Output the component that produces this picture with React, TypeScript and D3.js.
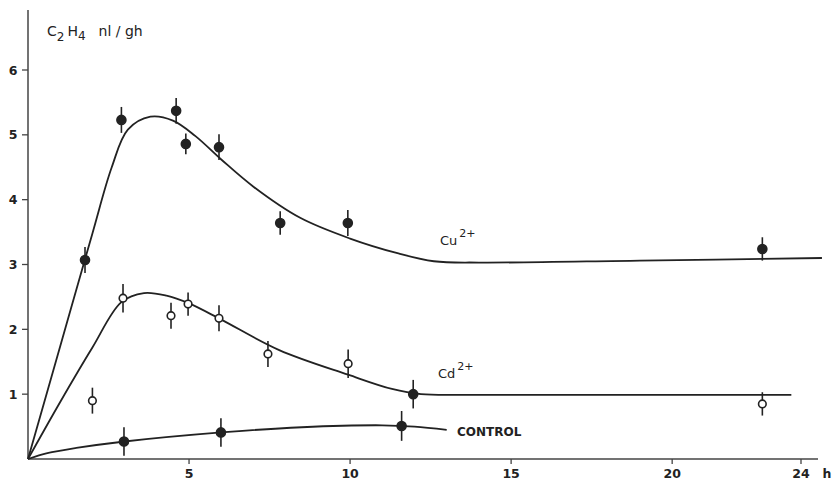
import React from "react";
import * as d3 from "d3";

// Measured points (hours, nl/gh, error)
const cuHours = [1.77, 2.9, 4.6, 4.9, 5.93, 7.83, 9.93, 22.8];
const cuValues = [3.07, 5.23, 5.37, 4.86, 4.81, 3.64, 3.64, 3.24];
const cuErrors = [0.2, 0.2, 0.2, 0.16, 0.2, 0.18, 0.2, 0.18];

const cdHours = [2.0, 2.95, 4.44, 4.97, 5.93, 7.45, 9.94, 11.96, 22.8];
const cdValues = [0.9, 2.48, 2.21, 2.39, 2.17, 1.62, 1.47, 1.0, 0.85];
const cdErrors = [0.2, 0.22, 0.2, 0.18, 0.2, 0.2, 0.22, 0.22, 0.18];
const cdFilled = [false, false, false, false, false, false, false, true, false];

const ctlHours = [2.98, 5.99, 11.6];
const ctlValues = [0.27, 0.41, 0.51];
const ctlErrors = [0.22, 0.22, 0.23];

// Fitted curves
const cuCurveH = [0, 1, 2, 2.6, 3.1, 3.8, 4.5, 5.2, 6, 7, 8.45, 10, 11.5, 12.6, 14, 19, 24.65];
const cuCurveV = [0, 1.74, 3.48, 4.5, 5.08, 5.28, 5.22, 4.98, 4.62, 4.2, 3.72, 3.4, 3.17, 3.05, 3.03, 3.06, 3.1];

const cdCurveH = [0, 1, 2, 2.9, 3.6, 4.3, 5, 6, 7.8, 9.94, 11.3, 12.2, 14, 23.7];
const cdCurveV = [0, 0.88, 1.72, 2.42, 2.56, 2.52, 2.4, 2.15, 1.68, 1.3, 1.08, 1.0, 0.99, 0.99];

const ctlCurveH = [0, 0.6, 1.5, 3, 6, 8.5, 11, 12, 13];
const ctlCurveV = [0, 0.09, 0.17, 0.27, 0.41, 0.49, 0.52, 0.5, 0.45];

const xTicks = [5, 10, 15, 20, 24];
const yTicks = [1, 2, 3, 4, 5, 6];

export default function App() {
  const W = 835;
  const H = 480;
  const x = d3.scaleLinear().domain([0, 24]).range([28, 801]);
  const y = d3.scaleLinear().domain([0, 6]).range([459, 70]);
  const line = d3
    .line<[number, number]>()
    .x((d) => x(d[0]))
    .y((d) => y(d[1]))
    .curve(d3.curveCatmullRom.alpha(0.5));

  const ink = "#222";
  const font = "DejaVu Sans, sans-serif";

  const mk = (hs: number[], vs: number[]) => hs.map((h, i) => [h, vs[i]] as [number, number]);

  const drawPoints = (
    hs: number[],
    vs: number[],
    es: number[],
    filled: (i: number) => boolean,
    key: string
  ) =>
    hs.map((h, i) => (
      <g key={key + i}>
        <line
          x1={x(h)}
          x2={x(h)}
          y1={y(vs[i] - es[i])}
          y2={y(vs[i] + es[i])}
          stroke={ink}
          strokeWidth={1.6}
        />
        <circle
          cx={x(h)}
          cy={y(vs[i])}
          r={filled(i) ? 4.5 : 3.8}
          fill={filled(i) ? ink : "#fff"}
          stroke={ink}
          strokeWidth={1.6}
        />
      </g>
    ));

  return (
    <svg
      width={W}
      height={H}
      style={{ position: "absolute", left: 0, top: 0, background: "#fff" }}
      fontFamily={font}
    >
      {/* axes */}
      <line x1={x(0)} x2={x(0)} y1={459} y2={10} stroke="#444" strokeWidth={1.5} />
      <line x1={x(0)} x2={818} y1={459} y2={459} stroke="#444" strokeWidth={1.5} />
      {yTicks.map((t) => (
        <g key={"yt" + t}>
          <line x1={x(0) - 6} x2={x(0)} y1={y(t)} y2={y(t)} stroke="#444" strokeWidth={1.3} />
          <text x={13} y={y(t) + 4.5} fontSize={12.5} fontWeight="bold" fill={ink} textAnchor="middle">
            {t}
          </text>
        </g>
      ))}
      {xTicks.map((t) => (
        <g key={"xt" + t}>
          <line x1={x(t)} x2={x(t)} y1={459} y2={464} stroke="#444" strokeWidth={1.3} />
          <text x={x(t)} y={478} fontSize={12.5} fontWeight="bold" fill={ink} textAnchor="middle">
            {t}
          </text>
        </g>
      ))}
      <text x={827} y={478} fontSize={12.5} fontWeight="bold" fill={ink} textAnchor="middle">
        h
      </text>

      {/* y-axis title */}
      <text x={47} y={36} fontSize={14} fill={ink}>
        C
        <tspan fontSize={12} dy={5}>2</tspan>
        <tspan dy={-5} dx={3}>H</tspan>
        <tspan fontSize={12} dy={4}>4</tspan>
        <tspan dy={-4} dx={13}>nl / gh</tspan>
      </text>

      {/* curves */}
      <path d={line(mk(cuCurveH, cuCurveV)) || ""} fill="none" stroke={ink} strokeWidth={1.8} />
      <path d={line(mk(cdCurveH, cdCurveV)) || ""} fill="none" stroke={ink} strokeWidth={1.8} />
      <path d={line(mk(ctlCurveH, ctlCurveV)) || ""} fill="none" stroke={ink} strokeWidth={1.8} />

      {/* points */}
      {drawPoints(cuHours, cuValues, cuErrors, () => true, "cu")}
      {drawPoints(cdHours, cdValues, cdErrors, (i) => cdFilled[i], "cd")}
      {drawPoints(ctlHours, ctlValues, ctlErrors, () => true, "ctl")}

      {/* series labels */}
      <text x={440} y={245} fontSize={13} fill={ink}>
        Cu<tspan fontSize={11} dy={-8} dx={2}>2+</tspan>
      </text>
      <text x={438} y={378} fontSize={13} fill={ink}>
        Cd<tspan fontSize={11} dy={-8} dx={2}>2+</tspan>
      </text>
      <text x={457} y={436} fontSize={12} fontWeight="bold" fill={ink}>
        CONTROL
      </text>
    </svg>
  );
}
